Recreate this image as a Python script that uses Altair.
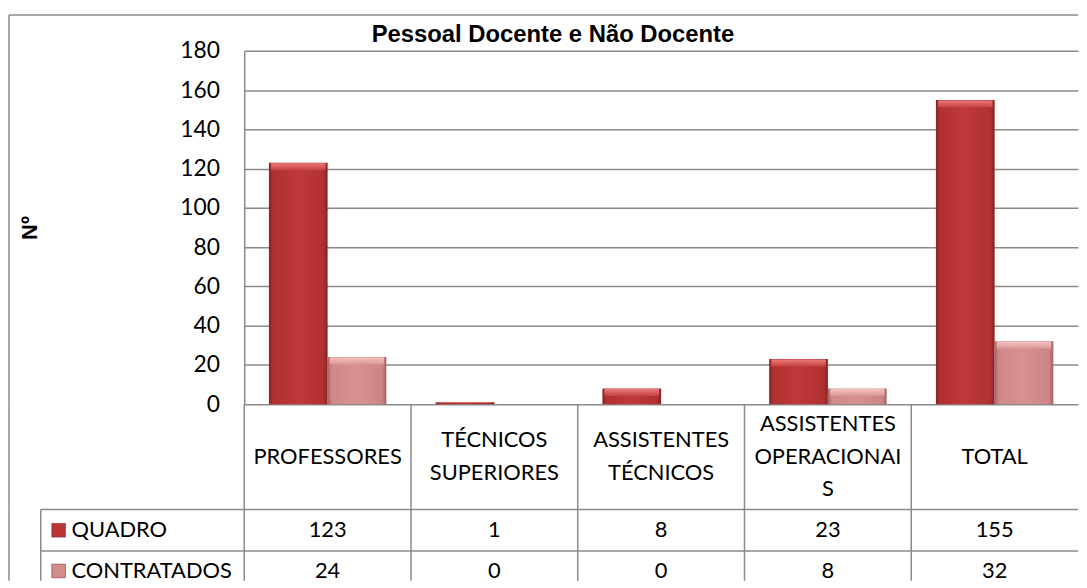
import altair as alt
import pandas as pd

# ---------------- data ----------------
categories = ["PROFESSORES", "TÉCNICOS SUPERIORES", "ASSISTENTES TÉCNICOS",
              "ASSISTENTES OPERACIONAIS", "TOTAL"]
header_labels = ["PROFESSORES", "TÉCNICOS\nSUPERIORES", "ASSISTENTES\nTÉCNICOS",
                 "ASSISTENTES\nOPERACIONAI\nS", "TOTAL"]
series = ["QUADRO", "CONTRATADOS"]
quadro = [123, 1, 8, 23, 155]
contratados = [24, 0, 0, 8, 32]
y_ticks = [0, 20, 40, 60, 80, 100, 120, 140, 160, 180]
title_text = "Pessoal Docente e Não Docente"
y_title = "Nº"

# ---------------- styling ----------------
W, HA, HB, HC = 840, 356, 106, 72
LINE = "#8A8A8A"
LW = 1.5
LH = 33
Q_COL = "#B83434"
C_COL = "#D38B8B"

def hgrad(stops):
    return {"gradient": "linear", "x1": 0, "x2": 1, "y1": 0, "y2": 0,
            "stops": [{"offset": o, "color": c} for o, c in stops]}

def vgrad(stops):
    return {"gradient": "linear", "x1": 0, "x2": 0, "y1": 0, "y2": 1,
            "stops": [{"offset": o, "color": c} for o, c in stops]}

grad_q = hgrad([(0, "#8A2222"), (0.07, "#B23030"), (0.5, "#BF3939"), (0.93, "#B03030"), (1, "#862020")])
grad_c = hgrad([(0, "#A96262"), (0.07, "#CF8888"), (0.5, "#D89292"), (0.93, "#CC8484"), (1, "#A45C5C")])
top_q = vgrad([(0, "#EC7A7A"), (1, "#C44040")])
top_c = vgrad([(0, "#F4C0C0"), (1, "#DA9696")])

rows = []
for c, q, k in zip(categories, quadro, contratados):
    rows.append({"cat": c, "serie": "QUADRO", "value": q})
    rows.append({"cat": c, "serie": "CONTRATADOS", "value": k})
bars_df = pd.DataFrame(rows)
cells_df = bars_df.assign(txt=bars_df["value"].astype(str))
header_df = pd.DataFrame({"cat": categories, "label": header_labels})
header_df["nlines"] = header_df["label"].str.count("\n") + 1
legend_df = pd.DataFrame({"serie": series})
one = pd.DataFrame({"a": [0]})

xA = alt.Scale(type="band", domain=categories, paddingInner=0.296, paddingOuter=0.148)
xT = alt.Scale(type="band", domain=categories, paddingInner=0, paddingOuter=0)
yC = alt.Scale(type="point", domain=series, range=[21, 62], padding=0)
xoff = alt.XOffset("serie:N", scale=alt.Scale(domain=series, paddingInner=0, paddingOuter=0))
yA = alt.Scale(domain=[0, 180])

y_axis = alt.Axis(values=y_ticks, grid=True, gridColor=LINE, gridWidth=LW,
                  domain=True, domainColor=LINE, domainWidth=LW, ticks=False,
                  labelFont="Lato", labelFontSize=23, labelColor="black",
                  labelPadding=25, title=y_title, titleFont="Liberation Sans",
                  titleFontWeight="bold", titleFontSize=22, titleColor="black",
                  titleAngle=270, titleX=-216, titleY=178, titleAlign="center",
                  titleBaseline="middle")

def bar_layer(name, grad):
    return alt.Chart(bars_df).transform_filter(alt.datum.serie == name).mark_bar(
        color=grad).encode(
        x=alt.X("cat:N", sort=categories, scale=xA, axis=None),
        xOffset=xoff,
        y=alt.Y("value:Q", scale=yA, axis=y_axis),
    )

def bevel_layer(name, grad):
    return alt.Chart(bars_df).transform_filter(
        (alt.datum.serie == name) & (alt.datum.value >= 5)).mark_tick(
        color=grad, thickness=7, size=55, yOffset=4, opacity=1).encode(
        x=alt.X("cat:N", sort=categories, scale=xA, axis=None),
        xOffset=xoff,
        y=alt.Y("value:Q", scale=yA, axis=y_axis),
    )

def vline(x, h):
    return alt.Chart(one).mark_rule(color=LINE, strokeWidth=LW).encode(
        x=alt.value(x), y=alt.value(0), y2=alt.value(h))

top_border = alt.Chart(one).mark_rule(color=LINE, strokeWidth=LW).encode(
    x=alt.value(-237), x2=alt.value(W), y=alt.value(-36))
left_border_a = alt.Chart(one).mark_rule(color=LINE, strokeWidth=LW).encode(
    x=alt.value(-237), y=alt.value(-36), y2=alt.value(HA))
title = alt.Chart(one).mark_text(text=title_text, font="Liberation Sans", fontWeight="bold",
                                 fontSize=24, align="center", baseline="alphabetic",
                                 color="black").encode(x=alt.value(311), y=alt.value(-9))

chartA = alt.layer(bar_layer("QUADRO", grad_q), bar_layer("CONTRATADOS", grad_c),
                   bevel_layer("QUADRO", top_q), bevel_layer("CONTRATADOS", top_c),
                   top_border, left_border_a, title).properties(width=W, height=HA)

# header row of the data table (one layer per number of wrapped lines, block centred)
def head_layer(n):
    return alt.Chart(header_df).transform_filter(alt.datum.nlines == n).mark_text(
        font="Lato", fontSize=22, lineBreak="\n", lineHeight=LH, align="center",
        baseline="middle", color="black").encode(
        x=alt.X("cat:N", sort=categories, scale=xT, axis=None),
        y=alt.value(HB / 2 - (n - 1) * LH / 2), text="label:N")

head_sep = alt.Chart(header_df).mark_rule(color=LINE, strokeWidth=LW).encode(
    x=alt.X("cat:N", sort=categories, scale=xT, axis=None, bandPosition=0),
    y=alt.value(0), y2=alt.value(HB))
chartB = alt.layer(head_sep, head_layer(1), head_layer(2), head_layer(3),
                   vline(-237, HB)).properties(width=W, height=HB)

# value rows
hl1 = alt.Chart(one).mark_rule(color=LINE, strokeWidth=LW).encode(
    x=alt.value(-205), x2=alt.value(W), y=alt.value(0))
hl2 = alt.Chart(one).mark_rule(color=LINE, strokeWidth=LW).encode(
    x=alt.value(-205), x2=alt.value(W), y=alt.value(42))
row_sep = alt.Chart(header_df).mark_rule(color=LINE, strokeWidth=LW).encode(
    x=alt.X("cat:N", sort=categories, scale=xT, axis=None, bandPosition=0),
    y=alt.value(0), y2=alt.value(HC))
cell_text = alt.Chart(cells_df).mark_text(font="Lato", fontSize=22, align="center",
                                          baseline="middle", color="black").encode(
    x=alt.X("cat:N", sort=categories, scale=xT, axis=None),
    y=alt.Y("serie:N", scale=yC, axis=None), text="txt:N")
swatch = alt.Chart(legend_df).mark_square(size=190, opacity=1, filled=True,
                                          stroke="#7A2020", strokeWidth=0.5).encode(
    x=alt.value(-187), y=alt.Y("serie:N", scale=yC, axis=None),
    color=alt.Color("serie:N", scale=alt.Scale(domain=series, range=[Q_COL, C_COL]), legend=None))
leg_text = alt.Chart(legend_df).mark_text(font="Lato", fontSize=22, align="left",
                                          baseline="middle", color="black").encode(
    x=alt.value(-174), y=alt.Y("serie:N", scale=yC, axis=None), text="serie:N")
chartC = alt.layer(hl1, hl2, row_sep, vline(-205, HC), vline(-237, HC),
                   cell_text, swatch, leg_text).properties(width=W, height=HC)

chart = alt.vconcat(chartA, chartB, chartC, spacing=0, bounds="flush").resolve_scale(
    x="independent", y="independent", color="independent"
).properties(padding={"left": 0, "top": 4, "right": 0, "bottom": 0}).configure_view(stroke=None)

chart.save("out.html", embed_options={"renderer": "svg", "actions": False})
